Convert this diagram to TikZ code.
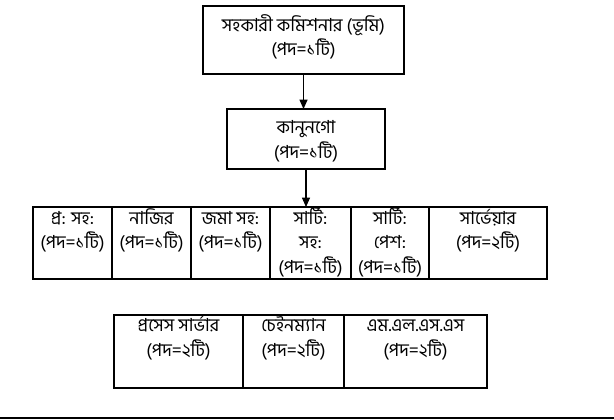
\documentclass[tikz,border=0pt]{standalone}
\usepackage{fontspec}
\newfontfamily\bn[Script=Bengali]{Hind Siliguri}
\usetikzlibrary{positioning,arrows.meta}
\newcommand{\cell}[4]{\parbox[c][#2][t]{#1}{\lineskiplimit=-\maxdimen\centering\rule{0pt}{#3}#4}}

\begin{document}
\begin{tikzpicture}[x=0.75pt, y=-0.75pt,
   every node/.style={draw, line width=0.8pt, inner sep=0pt, outer sep=0pt,
      font=\bn\fontsize{13.5}{18.5}\selectfont},
   link/.style={line width=0.8pt, -{Triangle[length=7pt,width=6pt]}}]

\useasboundingbox (0,0) rectangle (614,420);

\node (acl) at (303.5,40) {\cell{150.75pt}{51pt}{19pt}{সহকারী কমিশনার (ভূমি)\\(পদ=১টি)}};
\node (kanungo) at (306,139) {\cell{118.5pt}{45pt}{18.5pt}{কানুনগো\\(পদ=১টি)}};

\node[anchor=north west] (prasah) at (33,207) {\cell{59.25pt}{54pt}{13pt}{প্র: সহ:\\(পদ=১টি)}};
\node[right=0pt of prasah] (nazir) {\cell{59.25pt}{54pt}{13pt}{নাজির\\(পদ=১টি)}};
\node[right=0pt of nazir] (jomasah) {\cell{59.25pt}{54pt}{13pt}{জমা সহ:\\(পদ=১টি)}};
\node[right=0pt of jomasah] (sartisah) {\cell{60.75pt}{54pt}{13pt}{সার্টি:\\সহ:\\(পদ=১টি)}};
\node[right=0pt of sartisah] (sartipesh) {\cell{58.5pt}{54pt}{13pt}{সার্টি:\\পেশ:\\(পদ=১টি)}};
\node[right=0pt of sartipesh] (surveyor) {\cell{88.5pt}{54pt}{13pt}{সার্ভেয়ার\\(পদ=২টি)}};

\node[anchor=north west] (process) at (114,315) {\cell{96.75pt}{54.75pt}{12.5pt}{প্রসেস সার্ভার\\(পদ=২টি)}};
\node[right=0pt of process] (chain) {\cell{75.75pt}{54.75pt}{12.5pt}{চেইনম্যান\\(পদ=২টি)}};
\node[right=0pt of chain] (mlss) {\cell{107.25pt}{54.75pt}{12.5pt}{এম.এল.এস.এস\\(পদ=২টি)}};

\draw[link] (acl.south) -- (acl.south |- kanungo.north);
\draw[link] (kanungo.south) -- (kanungo.south |- sartisah.north);

\draw[line width=0.9pt] (0,418) -- (614,418);

\end{tikzpicture}
\end{document}
